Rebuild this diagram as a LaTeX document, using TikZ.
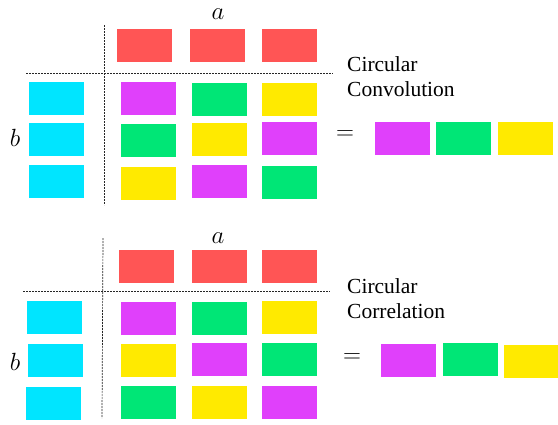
\documentclass[tikz,border=0pt]{standalone}
\usepackage{fontspec}
\setmainfont{Liberation Serif}
\begin{document}
\begin{tikzpicture}[x=1pt,y=-1pt,
  cell/.style={draw=none,minimum width=55pt,minimum height=33pt,inner sep=0pt},
  sep/.style={line width=0.7pt,black!85,dash pattern=on 2pt off 1pt},
  lbl/.style={inner sep=0pt,font=\fontsize{25}{25}\selectfont},
  ttl/.style={inner sep=0pt,anchor=west,align=left,font=\fontsize{21.5}{25}\selectfont}]
\definecolor{cred}{HTML}{FF5555}
\definecolor{ccyan}{HTML}{00E5FF}
\definecolor{cmag}{HTML}{E040FB}
\definecolor{cgrn}{HTML}{00E676}
\definecolor{cyel}{HTML}{FFEA00}
\useasboundingbox (0,0) rectangle (558,424);

% ---------- top panel ----------
\coordinate (tv1) at (104,25);
\coordinate (tv2) at (104,205);
\coordinate (th1) at (26,73);
\coordinate (th2) at (333,73);
\draw[sep] (tv1) -- (tv2);
\draw[sep] (th1) -- (th2);
\node[lbl] (ta) at (218,14) {$a$};
\node[lbl] (tb) at (15,138) {$b$};
\node[cell,fill=cred] (ta1) at (144.5,45.5) {};
\node[cell,fill=cred] (ta2) at (217.5,45.5) {};
\node[cell,fill=cred] (ta3) at (289.5,45.5) {};
\node[cell,fill=ccyan] (tb1) at (56.5,98.5) {};
\node[cell,fill=ccyan] (tb2) at (56.5,139.5) {};
\node[cell,fill=ccyan] (tb3) at (56.5,181.5) {};
\node[cell,fill=cmag] (t11) at (148.5,98.5) {};
\node[cell,fill=cgrn] (t21) at (148.5,140.5) {};
\node[cell,fill=cyel] (t31) at (148.5,183.5) {};
\node[cell,fill=cgrn] (t12) at (219.5,99.5) {};
\node[cell,fill=cyel] (t22) at (219.5,139.5) {};
\node[cell,fill=cmag] (t32) at (219.5,181.5) {};
\node[cell,fill=cyel] (t13) at (289.5,99.5) {};
\node[cell,fill=cmag] (t23) at (289.5,138.5) {};
\node[cell,fill=cgrn] (t33) at (289.5,182.5) {};
\node[ttl] (ttitle) at (347,77) {Circular\\Convolution};
\node[lbl,font=\fontsize{24}{24}\selectfont] (teq) at (345,135) {$=$};
\node[cell,fill=cmag] (tr1) at (402.5,138.5) {};
\node[cell,fill=cgrn] (tr2) at (463.5,138.5) {};
\node[cell,fill=cyel] (tr3) at (525.5,138.5) {};

% ---------- bottom panel ----------
\coordinate (bv1) at (103,238);
\coordinate (bv2) at (102,418);
\coordinate (bh1) at (23,291);
\coordinate (bh2) at (330,291);
\draw[sep] (bv1) -- (bv2);
\draw[sep] (bh1) -- (bh2);
\node[lbl] (ba) at (218,238) {$a$};
\node[lbl] (bb) at (15,362) {$b$};
\node[cell,fill=cred] (ba1) at (146.5,266.5) {};
\node[cell,fill=cred] (ba2) at (219.5,266.5) {};
\node[cell,fill=cred] (ba3) at (289.5,266.5) {};
\node[cell,fill=ccyan] (bb1) at (54.5,317.5) {};
\node[cell,fill=ccyan] (bb2) at (55.5,360.5) {};
\node[cell,fill=ccyan] (bb3) at (53.5,403.5) {};
\node[cell,fill=cmag] (b11) at (148.5,318.5) {};
\node[cell,fill=cyel] (b21) at (148.5,360.5) {};
\node[cell,fill=cgrn] (b31) at (148.5,402.5) {};
\node[cell,fill=cgrn] (b12) at (219.5,318.5) {};
\node[cell,fill=cmag] (b22) at (219.5,359.5) {};
\node[cell,fill=cyel] (b32) at (219.5,402.5) {};
\node[cell,fill=cyel] (b13) at (289.5,317.5) {};
\node[cell,fill=cgrn] (b23) at (289.5,359.5) {};
\node[cell,fill=cmag] (b33) at (289.5,402.5) {};
\node[ttl] (btitle) at (347,298.5) {Circular\\Correlation};
\node[lbl,font=\fontsize{24}{24}\selectfont] (beq) at (352,358) {$=$};
\node[cell,fill=cmag] (br1) at (408.5,360.5) {};
\node[cell,fill=cgrn] (br2) at (470.5,359.5) {};
\node[cell,fill=cyel] (br3) at (531,361.5) {};
\end{tikzpicture}
\end{document}
